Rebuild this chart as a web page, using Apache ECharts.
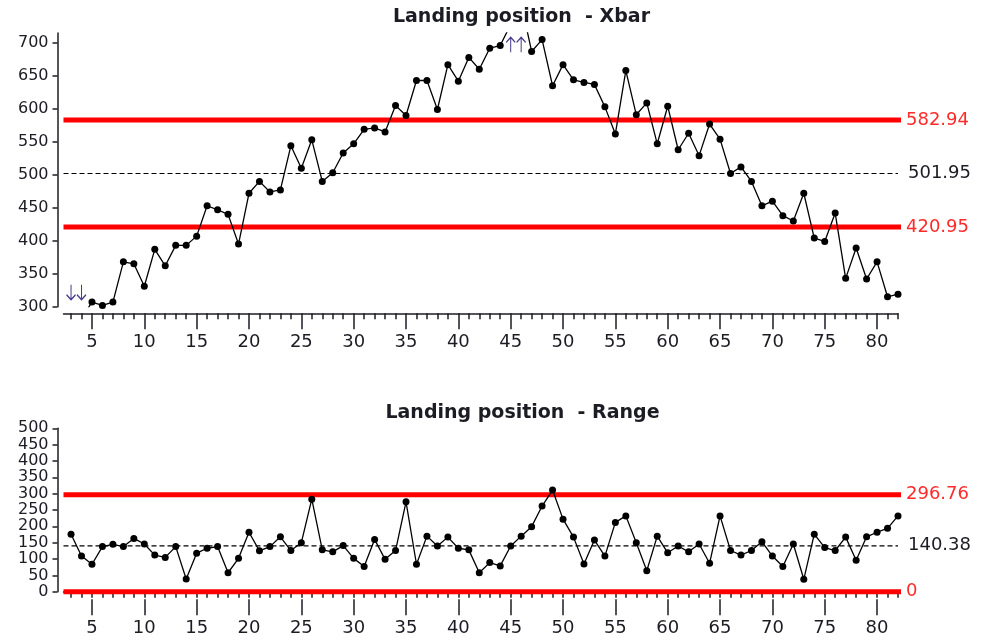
<!DOCTYPE html>
<html><head><meta charset="utf-8">
<script src="https://cdn.jsdelivr.net/npm/echarts@6/dist/echarts.min.js"></script>
<style>html,body{margin:0;padding:0;background:#fff}#c{width:983px;height:640px}</style>
</head><body><div id="c"></div>
<script>
// ---- data ----
const samples = [3,4,5,6,7,8,9,10,11,12,13,14,15,16,17,18,19,20,21,22,23,24,25,26,27,28,29,30,31,32,33,34,35,36,37,38,39,40,41,42,43,44,45,46,47,48,49,50,51,52,53,54,55,56,57,58,59,60,61,62,63,64,65,66,67,68,69,70,71,72,73,74,75,76,77,78,79,80,81,82];
const xbarValues = [285,282,307,302,307,368,365,331,387,362,393,393,407,453,447,440,395,472,490,474,477,544,510,553,490,503,533,547,569,571,565,605,590,643,643,599,667,642,678,660,692,696,728,760,687,705,635,667,644,640,637,603,562,658,591,609,547,604,538,563,529,577,554,502,512,490,453,460,438,430,472,404,399,442,343,389,342,368,315,319];
const rangeValues = [176,109,84,138,145,138,163,146,112,105,138,39,118,133,138,58,102,182,125,138,168,126,150,283,128,122,141,102,77,160,99,126,275,84,170,140,167,133,128,58,89,79,140,170,199,262,311,222,167,85,158,109,212,232,150,64,170,119,140,122,146,87,232,126,112,126,153,109,77,146,38,176,135,126,167,96,168,182,194,232];
const xbarLimits = [582.94, 501.95, 420.95];   // UCL, CL, LCL
const rangeLimits = [296.76, 140.38, 0];        // UCL, CL, LCL
const xbarTicks = [300,350,400,450,500,550,600,650,700];
const rangeTicks = [0,50,100,150,200,250,300,350,400,450,500];
const xLabels = [5,10,15,20,25,30,35,40,45,50,55,60,65,70,75,80];
const offLowSamples = [3,4];     // below the Xbar scale
const offHighSamples = [45,46];  // above the Xbar scale

// ---- chart ----
const FONT = 'DejaVu Sans';
const INK = '#1c1c24';
const RED = '#ff0000';
const XMIN = 2.28, XMAX = 82, XEND_RED = 82.48;

const chart = echarts.init(document.getElementById('c'), null, {renderer: 'canvas'});

function xAxesFor(grid, off) {
  return [
    {gridIndex: grid, type: 'value', min: XMIN, max: XMAX, position: 'bottom', offset: off,
     axisLine: {show: true, lineStyle: {color: INK, width: 1.5}},
     axisTick: {show: true, customValues: samples, length: 6, lineStyle: {color: INK, width: 1.5}},
     axisLabel: {show: true, customValues: xLabels, fontSize: 18, color: INK, fontFamily: FONT, margin: 20},
     splitLine: {show: false}},
    {gridIndex: grid, type: 'value', min: XMIN, max: XMAX, position: 'bottom', offset: off,
     axisLine: {show: false},
     axisTick: {show: true, customValues: xLabels, length: 16, lineStyle: {color: INK, width: 1.5}},
     axisLabel: {show: false},
     splitLine: {show: false}}
  ];
}
function yAxisFor(grid, min, max, ticks) {
  return {gridIndex: grid, type: 'value', min: min, max: max, position: 'left', offset: 6,
    axisLine: {show: true, lineStyle: {color: INK, width: 1.5}},
    axisTick: {show: true, customValues: ticks, length: 5, lineStyle: {color: INK, width: 1.5}},
    axisLabel: {show: true, customValues: ticks, fontSize: 16, color: INK, fontFamily: FONT, margin: 9},
    splitLine: {show: false}};
}
function limitSeries(xi, yi, v, kind) {
  const red = kind !== 'cl';
  return {
    type: 'line', xAxisIndex: xi, yAxisIndex: yi, clip: false, silent: true, symbol: 'none', z: 2,
    data: [[XMIN, v], [red ? XEND_RED : XMAX, v]],
    lineStyle: red ? {color: RED, width: 5} : {color: '#000', width: 1.2, type: [5, 3]},
    endLabel: {show: true, formatter: String(v), distance: red ? 5 : 10,
      color: red ? '#ff2a2a' : INK, fontSize: 18, fontFamily: FONT}
  };
}
const upArrow = 'path://M5,15 L5,0 M1,5 L5,0 L9,5';
const downArrow = 'path://M5,0 L5,15 M1,10 L5,15 L9,10';

const dataStyle = {
  type: 'line', symbol: 'circle', symbolSize: 7, z: 5, clip: true, silent: true,
  lineStyle: {color: '#000', width: 1.3}, itemStyle: {color: '#000'}
};

const option = {
  animation: false,
  textStyle: {fontFamily: FONT},
  title: [
    {text: 'Landing position  - Xbar', left: 521.5, top: 8, textAlign: 'center', padding: 0,
     textStyle: {fontSize: 19, fontWeight: 'bold', color: INK, fontFamily: FONT}},
    {text: 'Landing position  - Range', left: 522.5, top: 404, textAlign: 'center', padding: 0,
     textStyle: {fontSize: 19, fontWeight: 'bold', color: INK, fontFamily: FONT}}
  ],
  grid: [
    {left: 63.5, right: 85, top: 33, height: 273.7},
    {left: 63.5, right: 85, top: 428.3, height: 163.4}
  ],
  xAxis: [].concat(xAxesFor(0, 6.6), xAxesFor(1, 7.6)),
  yAxis: [yAxisFor(0, 300, 715, xbarTicks), yAxisFor(1, 0, 500, rangeTicks)],
  series: [
    limitSeries(0, 0, xbarLimits[0], 'ucl'),
    limitSeries(0, 0, xbarLimits[1], 'cl'),
    limitSeries(0, 0, xbarLimits[2], 'lcl'),
    Object.assign({}, dataStyle, {
      xAxisIndex: 0, yAxisIndex: 0,
      data: samples.map((s, i) => [s, xbarValues[i]]),
      markPoint: {
        silent: true, symbolSize: [9, 15], label: {show: false},
        itemStyle: {color: 'rgba(0,0,0,0)', borderColor: '#4a3a8c', borderWidth: 1.3},
        data: offLowSamples.map(s => ({coord: [s, 300 + 22], symbol: downArrow}))
          .concat(offHighSamples.map(s => ({coord: [s, 715 - 18], symbol: upArrow})))
      }
    }),
    limitSeries(2, 1, rangeLimits[0], 'ucl'),
    limitSeries(2, 1, rangeLimits[1], 'cl'),
    limitSeries(2, 1, rangeLimits[2], 'lcl'),
    Object.assign({}, dataStyle, {
      xAxisIndex: 2, yAxisIndex: 1,
      data: samples.map((s, i) => [s, rangeValues[i]])
    })
  ]
};
chart.setOption(option);
</script>
</body></html>
